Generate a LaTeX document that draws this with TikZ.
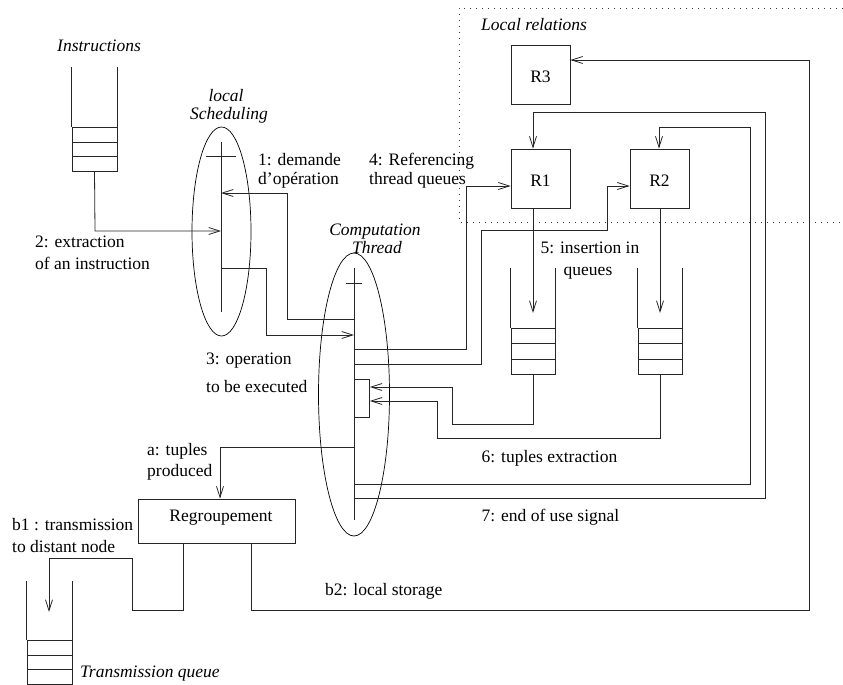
\documentclass[tikz,border=0pt]{standalone}
\usepackage{fontspec}
\setmainfont{Liberation Serif}
\usetikzlibrary{arrows.meta,shapes.geometric}
\begin{document}
\begin{tikzpicture}[x=1pt,y=-1pt,
  ln/.style={line width=0.8pt,draw=black!85},
  arr/.style={ln,-{Straight Barb[length=11pt,width=7pt]}},
  rbox/.style={ln,rectangle,inner sep=0pt},
  qcells/.style={ln,rectangle,inner sep=0pt,minimum width=45pt,minimum height=44pt},
  oval/.style={draw=black,line width=0.7pt,ellipse,inner sep=0pt},
  lbl/.style={inner sep=0pt,anchor=base west},
  clbl/.style={inner sep=0pt,anchor=base},
  dotline/.style={line width=0.9pt,draw=black!80,dash pattern=on 1pt off 5pt},
  every node/.style={font=\fontsize{17.5}{21}\selectfont}
]
\useasboundingbox (0,0) rectangle (843,685);

% dotted region
\draw[dotline] (843,8) -- (459,8) -- (459,222) -- (843,222);
\node[lbl] (loclab) at (481,31) {\itshape Local relations};

% instructions queue
\node[qcells] (iq) at (94.5,149) {};
\draw[ln] (iq.north west) -- ++(0,-60);
\draw[ln] (iq.north east) -- ++(0,-60);
\draw[ln] (72,142) -- (117,142);
\draw[ln] (72,156) -- (117,156);
\node[clbl] (instlab) at (99,52) {\itshape Instructions};

% transmission queue
\node[qcells] (tq) at (49.5,662) {};
\draw[ln] (tq.north west) -- ++(0,-59);
\draw[ln] (tq.north east) -- ++(0,-59);
\draw[ln] (27,655) -- (72,655);
\draw[ln] (27,669) -- (72,669);
\node[lbl] (tqlab) at (80,677) {\itshape Transmission queue};

% relation queues
\node[qcells,minimum width=44pt,minimum height=46pt] (q1) at (533,351) {};
\draw[ln] (q1.north west) -- ++(0,-60);
\draw[ln] (q1.north east) -- ++(0,-60);
\draw[ln] (511,343) -- (555,343);
\draw[ln] (511,359) -- (555,359);
\node[qcells,minimum width=44pt,minimum height=46pt] (q2) at (660,351) {};
\draw[ln] (q2.north west) -- ++(0,-60);
\draw[ln] (q2.north east) -- ++(0,-60);
\draw[ln] (638,343) -- (682,343);
\draw[ln] (638,359) -- (682,359);

% relations
\node[rbox,minimum size=59pt,text height=16pt,text depth=0pt] (R3) at (540.5,74.5) {R3};
\node[rbox,minimum size=59pt,text height=16pt,text depth=0pt] (R1) at (540.5,178.5) {R1};
\node[rbox,minimum size=59pt,text height=16pt,text depth=0pt] (R2) at (659.5,178.5) {R2};

% local scheduling
\node[oval,minimum width=59pt,minimum height=209pt] (sched) at (221.5,231.5) {};
\coordinate (st) at (221,142);
\coordinate (sb) at (221,312);
\draw[ln] (st) -- (sb);
\draw[ln] (206,156) -- (236,156);
\node[clbl] (schlab1) at (226,101) {\itshape local};
\node[clbl] (schlab2) at (229,119) {\itshape Scheduling};

% computation thread
\node[oval,minimum width=71pt,minimum height=283pt] (comp) at (354,394.5) {};
\coordinate (ct) at (354,268);
\coordinate (cb) at (354,520);
\draw[ln] (ct) -- (cb);
\draw[ln] (346,283) -- (362,283);
\node[rbox,minimum width=15pt,minimum height=38pt,anchor=north west] (slot) at (354,379) {};
\node[clbl] (complab1) at (375,235) {\itshape Computation};
\node[clbl] (complab2) at (377,253) {\itshape Thread};

% regroupement
\node[rbox,minimum width=157pt,minimum height=44pt,text height=8pt,text depth=8pt] (reg) at (216.5,521) {\hspace*{9pt}Regroupement};

% coordinates on the vertical lines
\coordinate (s1) at (221,193);
\coordinate (s2) at (221,231);
\coordinate (s3) at (221,268);
\coordinate (c1) at (354,319);
\coordinate (c3) at (354,335);
\coordinate (c4) at (354,349);
\coordinate (c4b) at (354,364);
\coordinate (ca) at (354,447);
\coordinate (c7a) at (354,484);
\coordinate (c7b) at (354,498);

% 1
\draw[arr] (c1) -- (287,319) -- (287,193) -- (s1);
% 2
\draw[arr] (iq.south) -- (95,231) -- (s2);
% 3
\draw[arr] (s3) -- (266,268) -- (266,335) -- (c3);
% 4
\draw[arr] (c4) -- (466,349) -- (466,186) -- (R1.west |- 0,186);
\draw[arr] (c4b) -- (481,364) -- (481,230) -- (607,230) -- (607,186) -- (R2.west |- 0,186);
% 5
\draw[arr] (R1.south -| 533,0) -- (533,313);
\draw[arr] (R2.south -| 660,0) -- (660,313);
% 6
\draw[arr] (q1.south) -- (533,424) -- (452,424) -- (452,387) -- (slot.east |- 0,387);
\draw[arr] (q2.south) -- (660,438) -- (437,438) -- (437,401) -- (slot.east |- 0,401);
% 7
\draw[arr] (c7a) -- (750,484) -- (750,127) -- (659,127) -- (R2.north -| 659,0);
\draw[arr] (c7b) -- (765,498) -- (765,112) -- (533,112) -- (R1.north -| 533,0);
% a
\draw[arr] (ca) -- (220,447) -- (reg.north -| 220,0);
% b1
\draw[arr] (reg.south -| 183,0) -- (183,610) -- (132,610) -- (132,558) -- (49,558) -- (49,612);
% b2
\draw[arr] (reg.south -| 251,0) -- (251,610) -- (809,610) -- (809,60) -- (R3.east |- 0,60);

% labels
\node[lbl] (l1a) at (258,165) {1: demande};
\node[lbl] (l1b) at (258,184) {d’opération};
\node[lbl] (l2a) at (35,247) {2: extraction};
\node[lbl] (l2b) at (35,269) {of an instruction};
\node[lbl] (l3a) at (206,364) {3: operation};
\node[lbl] (l3b) at (206,392) {to be executed};
\node[lbl] (l4a) at (369,165) {4: Referencing};
\node[lbl] (l4b) at (369,184) {thread queues};
\node[clbl] (l5a) at (590,253) {5: insertion in};
\node[clbl] (l5b) at (588,275) {queues};
\node[lbl] (l6) at (481.5,462) {6: tuples extraction};
\node[lbl] (l7) at (481.5,521) {7: end of use signal};
\node[lbl] (laa) at (147,455) {a: tuples};
\node[lbl] (lab) at (147,476) {produced};
\node[lbl] (lb1a) at (12,530) {b1 : transmission};
\node[lbl] (lb1b) at (12,552) {to distant node};
\node[lbl] (lb2) at (325,595) {b2: local storage};
\end{tikzpicture}
\end{document}
